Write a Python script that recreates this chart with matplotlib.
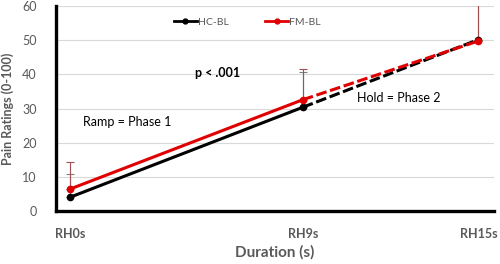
import matplotlib.pyplot as plt

# data
durations = ['RH0s', 'RH9s', 'RH15s']
x_pos = [0, 9, 15.8]
hc_bl = [4.1, 30.4, 50.2]
fm_bl = [6.5, 32.6, 49.8]
hc_err = [6.7, 10.2, 14.0]
fm_err = [7.9, 9.1, 14.0]

plt.rcParams['font.family'] = ['Lato', 'DejaVu Sans']
grey = '#595959'

f = plt.figure(figsize=(5, 2.64), dpi=100)
ax = f.add_axes([0.112, 0.2, 0.876, 0.777])

# upper-only error bars
ax.errorbar(x_pos, hc_bl, yerr=[[0, 0, 0], hc_err], fmt='none', ecolor='#7f7f7f',
            elinewidth=0.8, capsize=3, capthick=0.8, zorder=2)
ax.errorbar(x_pos, fm_bl, yerr=[[0, 0, 0], fm_err], fmt='none', ecolor='#a05050',
            elinewidth=0.8, capsize=3, capthick=0.8, zorder=2)

for vals, col, name in [(hc_bl, 'black', 'HC-BL'), (fm_bl, '#e00000', 'FM-BL')]:
    ax.plot(x_pos[:2], vals[:2], color=col, lw=2.2, solid_capstyle='butt', zorder=3)
    ax.plot(x_pos[1:], vals[1:], color=col, lw=2.2, ls=(0, (3.5, 1.2)), zorder=3)
    ax.plot(x_pos, vals, 'o', color=col, ms=4.5, zorder=4)
    ax.plot([], [], '-o', color=col, lw=2, ms=3.5, label=name)

ax.set_xlim(-0.55, 16.4)
ax.set_ylim(0, 60)
ax.set_yticks(range(0, 61, 10))
ax.set_xticks(x_pos)
ax.set_xticklabels(durations, fontweight='bold')
ax.grid(axis='y', color='#d9d9d9', lw=0.8)
ax.set_axisbelow(True)
for s in ['top', 'right']:
    ax.spines[s].set_visible(False)
for s in ['left', 'bottom']:
    ax.spines[s].set_linewidth(2.4)
ax.tick_params(axis='both', length=0, labelsize=9, colors=grey)
ax.tick_params(axis='x', pad=12)
ax.tick_params(axis='y', pad=14)

ax.set_xlabel('Duration (s)', fontsize=11, fontweight='bold', color=grey, labelpad=4)
ax.set_ylabel('Pain Ratings (0-100)', fontsize=9, fontweight='bold', color=grey, labelpad=6)

ax.legend(loc='upper center', bbox_to_anchor=(0.437, 0.99), ncol=2, frameon=False,
          fontsize=7.5, handlelength=2.2, handletextpad=0.1, columnspacing=3.5,
          labelcolor=grey)

ax.text(5.7, 40.5, 'p < .001', fontsize=9, fontweight='bold', ha='center', va='center')
ax.text(0.5, 26, 'Ramp = Phase 1', fontsize=9, ha='left', va='center')
ax.text(11.1, 33, 'Hold = Phase 2', fontsize=9, ha='left', va='center')

f.savefig('out.png', dpi=100)
